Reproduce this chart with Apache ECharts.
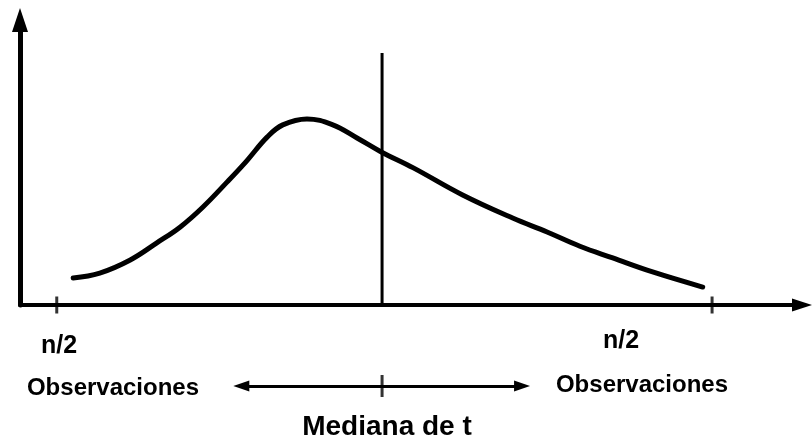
<!DOCTYPE html>
<html>
<head>
<meta charset="utf-8">
<script src="https://cdn.jsdelivr.net/npm/echarts@6/dist/echarts.min.js"></script>
<style>
  html, body { margin: 0; padding: 0; background: #fff; }
  #main { width: 812px; height: 440px; }
</style>
</head>
<body>
<div id="main"></div>
<script>
// curve (x: position along t, y: height)
var curveX = [6.8, 10.2, 14.1, 17.5, 20.5, 23.4, 26.5, 29.0, 31.6, 33.6, 36.7, 40.0, 43.1, 46.2, 50.3, 56.6, 63.0, 67.4, 71.6, 75.8, 80.9, 87.3];
var curveY = [9.5, 11.2, 15.8, 21.8, 27.4, 34.4, 43.2, 50.6, 58.9, 63.2, 65.3, 63.2, 58.6, 53.7, 48.1, 38.6, 30.5, 25.6, 20.6, 16.5, 11.6, 6.3];
var medianX = 46.3;
var medianTop = 88.4;
var tickX = [4.7, 88.5];
var tickLabels = ['n/2', 'n/2'];
var arrowFrom = 28.3, arrowTo = 64.2, arrowLevel = 54;
var sideLabel = 'Observaciones';
var medianLabel = 'Mediana de t';

var curve = curveX.map(function (x, i) { return [x, curveY[i]]; });
var font = '"Liberation Sans", Arial, sans-serif';

var myChart = echarts.init(document.getElementById('main'));

option = {
    backgroundColor: '#fff',
    animation: false,
    grid: [
        { left: 20, right: 10, top: 20, bottom: 135 },
        { left: 20, right: 10, top: 340, bottom: 0 }
    ],
    xAxis: [
        {
            type: 'value', gridIndex: 0, min: 0, max: 100,
            axisLine: { lineStyle: { color: '#000', width: 4 }, symbol: ['none', 'triangle'], symbolSize: [13, 20] },
            axisTick: { show: false }, axisLabel: { show: false }, splitLine: { show: false }
        },
        { type: 'value', gridIndex: 1, min: 0, max: 100, show: false }
    ],
    yAxis: [
        {
            type: 'value', gridIndex: 0, min: 0, max: 100,
            axisLine: { show: true, lineStyle: { color: '#000', width: 5 }, symbol: ['none', 'triangle'], symbolSize: [16, 24] },
            axisTick: { show: false }, axisLabel: { show: false }, splitLine: { show: false }
        },
        { type: 'value', gridIndex: 1, min: 0, max: 100, show: false }
    ],
    series: [
        {
            name: 'curva',
            type: 'line',
            smooth: 0.4,
            showSymbol: false,
            data: curve,
            lineStyle: { color: '#000', width: 5, cap: 'round' }
        },
        {
            name: 'mediana',
            type: 'line',
            showSymbol: false,
            data: [[medianX, 0], [medianX, medianTop]],
            lineStyle: { color: '#000', width: 3 }
        },
        {
            name: 'ticks',
            type: 'scatter',
            symbol: 'rect',
            symbolSize: [3, 17],
            itemStyle: { color: '#000' },
            clip: false,
            data: tickX.map(function (x) { return [x, 0]; })
        },
        {
            name: 'flechas',
            type: 'scatter',
            xAxisIndex: 1,
            yAxisIndex: 1,
            symbol: 'rect',
            symbolSize: [3, 22],
            itemStyle: { color: '#000' },
            data: [[medianX, arrowLevel]],
            markLine: {
                silent: true,
                symbol: ['triangle', 'triangle'],
                symbolSize: [11, 16],
                label: { show: false },
                lineStyle: { color: '#000', width: 3, type: 'solid' },
                data: [[{ coord: [arrowFrom, arrowLevel] }, { coord: [arrowTo, arrowLevel] }]]
            }
        }
    ],
    graphic: [
        { type: 'text', x: 59, y: 346, style: { text: tickLabels[0], font: 'bold 25px ' + font, fill: '#000', align: 'center', verticalAlign: 'middle' } },
        { type: 'text', x: 621, y: 341, style: { text: tickLabels[1], font: 'bold 25px ' + font, fill: '#000', align: 'center', verticalAlign: 'middle' } },
        { type: 'text', x: 113, y: 388, style: { text: sideLabel, font: 'bold 24px ' + font, fill: '#000', align: 'center', verticalAlign: 'middle' } },
        { type: 'text', x: 642, y: 385, style: { text: sideLabel, font: 'bold 24px ' + font, fill: '#000', align: 'center', verticalAlign: 'middle' } },
        { type: 'text', x: 387, y: 427, style: { text: medianLabel, font: 'bold 28px ' + font, fill: '#000', align: 'center', verticalAlign: 'middle' } }
    ]
};
myChart.setOption(option);
</script>
</body>
</html>
